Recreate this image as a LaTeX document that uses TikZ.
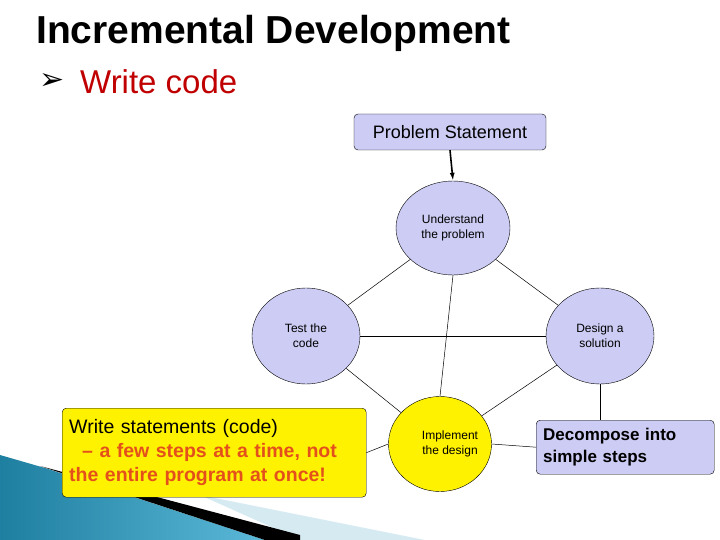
\documentclass[tikz,border=0pt]{standalone}
\usepackage{fontspec}
\setmainfont{Liberation Sans}
\usetikzlibrary{shapes.geometric,arrows.meta}
\definecolor{lav}{HTML}{CCCCF4}
\definecolor{orng}{HTML}{E4501C}
\definecolor{ttl}{HTML}{C00000}
\definecolor{teal1}{HTML}{1F7FA0}
\definecolor{teal2}{HTML}{5BB8D8}
\definecolor{pale}{HTML}{D6EAF2}
\tikzset{
 circ/.style={ellipse,draw,fill=lav,minimum width=#1,align=center,font=\fontsize{12}{15}\selectfont},
 rbox/.style={draw,rounded corners=4pt,align=left},
 conn/.style={draw,line width=0.5pt}
}
\begin{document}
\begin{tikzpicture}[x=1pt,y=-1pt]
\useasboundingbox (0,0) rectangle (720,540);
% decoration
\shade[left color=teal1,right color=teal2] (0,455) -- (45,468) -- (265,540) -- (0,540) -- cycle;
\fill[pale] (200,495) -- (425,540) -- (300,540) -- cycle;
\fill[black] (40,466) -- (300,535) -- (300,540) -- (265,540) -- cycle;
% titles
\node[anchor=west,font=\bfseries\fontsize{39}{44}\selectfont,inner sep=0pt] (t) at (36,33) {Incremental Development};
\node[anchor=west,font=\fontsize{33}{38}\selectfont,text=ttl,inner sep=0pt] (w) at (80,82) {Write code};
\node[inner sep=0pt] (b) at (52,82) {\fontspec{DejaVu Sans}\fontsize{30}{32}\selectfont➢};
% nodes
\node[rbox,fill=lav,minimum width=192pt,minimum height=36pt,align=center,font=\fontsize{18}{21}\selectfont] (ps) at (450,132) {Problem Statement};
\node[circ=114pt,minimum height=94pt] (u) at (453,228) {Understand\\the problem};
\node[circ=108pt,minimum height=96pt] (tc) at (306,336) {Test the\\code};
\node[circ=108pt,minimum height=96pt] (ds) at (600,336) {Design a\\solution};
\node[circ=103pt,minimum height=95pt,fill=yellow] (im) at (440,444) {};
\node[font=\fontsize{12}{15}\selectfont,align=center] (iml) at (450,444) {Implement\\the design};
\node[rbox,fill=yellow,minimum width=294pt,minimum height=89pt,anchor=north west,font=\fontsize{19.5}{24}\selectfont,text width=290pt,inner sep=2pt,inner xsep=7pt] (ws) at (62,408)
 {Write statements (code)\\ \textcolor{orng}{\bfseries\ \ -- a few steps at a time, not}\\ \textcolor{orng}{\bfseries the entire program at once!}};
\node[rbox,fill=lav,minimum width=172pt,minimum height=54pt,anchor=north west,font=\bfseries\fontsize{17}{22}\selectfont,text width=164pt,inner xsep=7pt] (dc) at (536,420) {Decompose into\\simple steps};
% connectors
\draw[-{Latex[length=8pt,width=5pt]},line width=1.6pt] (ps.south) -- (u.north);
\draw[conn] (u) -- (tc);
\draw[conn] (u) -- (ds);
\draw[conn] (u.south) -- (im.north);
\draw[conn] (tc.east) -- (ds.west);
\draw[conn] (tc) -- (im);
\draw[conn] (ds) -- (im);
\draw[conn] (ws.east) -- (im.west);
\draw[conn] (im.east) -- (dc.west);
\draw[conn] (ds.south) -- (dc.north -| ds.south);
\end{tikzpicture}
\end{document}
